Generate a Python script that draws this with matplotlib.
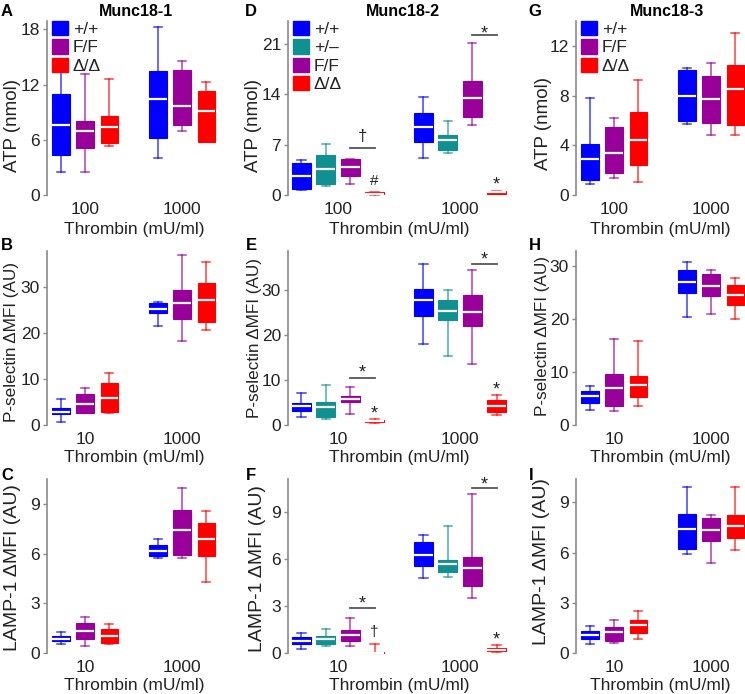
import matplotlib
matplotlib.use('Agg')
import matplotlib.pyplot as plt
from matplotlib.patches import Patch

plt.rcParams['font.family'] = ['Liberation Sans', 'DejaVu Sans']

# ---------------- data ----------------
genotypes3 = ["+/+", "F/F", "Δ/Δ"]
genotypes4 = ["+/+", "+/–", "F/F", "Δ/Δ"]
doses_atp = ["100", "1000"]
doses_flow = ["10", "1000"]
titles = ["Munc18-1", "Munc18-2", "Munc18-3"]
ylabels = ["ATP (nmol)", "P-selectin ΔMFI (AU)", "LAMP-1 ΔMFI (AU)"]

# each box: [whisker low, Q1, median, Q3, whisker high]; first dose group then second
A_atp = [[2.5, 4.3, 7.6, 10.95, 13.7], [2.5, 5.1, 6.9, 8.05, 13.1], [5.35, 5.6, 7.35, 8.6, 12.65],
         [4.05, 6.15, 10.4, 13.45, 18.25], [6.9, 7.6, 9.7, 13.6, 14.55], [5.8, 5.8, 9.1, 11.3, 12.3]]
D_atp = [[0.7, 0.85, 2.7, 4.5, 4.8], [1.25, 1.55, 3.6, 5.6, 7.1], [1.5, 2.65, 3.95, 5.0, 5.0],
         [0.05, 0.1, 0.2, 0.35, 0.4],
         [5.2, 7.4, 9.4, 11.4, 13.6], [5.8, 6.3, 7.6, 8.4, 10.35], [9.8, 10.8, 13.45, 15.85, 21.1],
         [0.1, 0.2, 0.4, 0.55, 0.6]]
G_atp = [[0.9, 1.2, 2.9, 4.1, 7.8], [1.4, 1.75, 3.4, 5.5, 6.2], [1.05, 2.45, 4.45, 6.65, 9.25],
         [5.75, 5.95, 8.0, 10.05, 10.2], [4.8, 5.8, 7.75, 9.6, 10.65], [4.8, 5.6, 8.5, 10.45, 13.05]]
B_psel = [[0.75, 2.4, 2.9, 3.8, 5.6], [2.55, 2.7, 4.6, 6.75, 8.0], [2.7, 2.9, 5.8, 9.1, 11.25],
          [21.6, 24.3, 25.2, 26.6, 26.8], [18.3, 23.0, 26.6, 29.4, 36.9], [20.7, 22.4, 27.2, 30.9, 35.4]]
E_psel = [[1.7, 3.2, 4.2, 4.95, 7.15], [1.35, 1.85, 3.95, 5.2, 9.0], [2.45, 5.05, 5.8, 6.55, 8.45],
          [0.5, 0.7, 0.95, 1.1, 1.3],
          [18.1, 24.25, 27.8, 30.4, 35.8], [15.3, 23.5, 25.4, 27.8, 30.1], [13.65, 22.1, 25.2, 29.0, 34.55],
          [2.2, 2.8, 4.3, 5.65, 6.8]]
H_psel = [[2.9, 4.15, 5.55, 6.5, 7.35], [2.6, 3.55, 6.95, 9.55, 16.3], [3.55, 5.25, 7.45, 9.2, 15.85],
          [20.4, 24.8, 26.9, 29.25, 30.7], [21.0, 24.4, 26.2, 28.5, 29.25], [19.9, 22.6, 24.5, 26.3, 27.8]]
C_lamp = [[0.55, 0.7, 0.85, 1.0, 1.25], [0.45, 0.85, 1.35, 1.8, 2.15], [0.55, 0.6, 1.05, 1.45, 1.75],
          [5.75, 5.85, 6.15, 6.5, 6.85], [5.75, 5.9, 7.45, 8.6, 9.95], [4.3, 5.85, 6.85, 7.85, 8.55]]
F_lamp = [[0.28, 0.55, 0.77, 1.03, 1.3], [0.43, 0.6, 0.88, 1.07, 1.56], [0.43, 0.75, 1.18, 1.46, 2.25],
          [0.0, 0.01, 0.03, 0.05, 0.55],
          [4.78, 5.53, 6.24, 7.09, 7.5], [4.84, 5.16, 5.68, 5.96, 8.1], [3.49, 4.29, 5.42, 6.13, 10.13],
          [0.05, 0.1, 0.2, 0.3, 0.5]]
I_lamp = [[0.56, 0.82, 1.1, 1.33, 1.61], [0.62, 0.72, 1.23, 1.57, 2.0], [0.82, 1.17, 1.67, 2.0, 2.51],
          [5.93, 6.23, 7.39, 8.3, 9.9], [5.38, 6.69, 7.33, 8.06, 8.26], [6.15, 6.85, 7.59, 8.24, 9.9]]

# significance bars F/F vs Δ/Δ: (dose group, bar y, symbol, symbol y)
D_bars = [(0, 6.6, "†", 8.2), (1, 22.2, "*", 23.2)]
E_bars = [(0, 10.45, "*", 12.9), (1, 36.0, "*", 38.0)]
F_bars = [(0, 2.85, "*", 3.5), (1, 10.5, "*", 11.1)]
# symbols above the Δ/Δ box: (dose group, symbol, symbol y)
D_marks = [(0, "#", 2.1), (1, "*", 2.2)]
E_marks = [(0, "*", 3.7), (1, "*", 9.2)]
F_marks = [(0, "†", 1.4), (1, "*", 1.2)]

# ---------------- style ----------------
colors3 = ["#0000ff", "#990099", "#ff0000"]
colors4 = ["#0000ff", "#109090", "#990099", "#ff0000"]

W, H = 745, 694
fig = plt.figure(figsize=(W / 100, H / 100), dpi=100)

col_px = [(47, 222), (288, 510), (576, 745)]
row_px = [(21, 195), (251, 425), (479, 653)]
col_xlim = [(0.608, 2.412), (0.59, 2.41), (0.608, 2.35)]

panel_data = [[A_atp, D_atp, G_atp], [B_psel, E_psel, H_psel], [C_lamp, F_lamp, I_lamp]]
panel_ylim = [[18.9, 24.2, 14.0], [37.8, 38.8, 32.8], [10.5, 11.1, 10.4]]
panel_ticks = [[[0, 6, 12, 18], [0, 7, 14, 21], [0, 4, 8, 12]],
               [[0, 10, 20, 30]] * 3,
               [[0, 3, 6, 9]] * 3]
letters = [["A", "D", "G"], ["B", "E", "H"], ["C", "F", "I"]]
letter_px = [[(7, 12), (251, 12), (535, 12)],
             [(7, 246), (251, 246), (535, 246)],
             [(7, 476), (251, 476), (531, 476)]]
ylabel_px = [[(13, 126), (254, 125), (543, 124)],
             [(12, 342), (255, 338), (542, 336)],
             [(13, 568), (257, 569), (542, 562)]]
ylabel_fs = [13.5, 12.3, 14.0]
title_px = [(136, 12), (403, 12), (667, 12)]
bars = {(0, 1): D_bars, (1, 1): E_bars, (2, 1): F_bars}
marks = {(0, 1): D_marks, (1, 1): E_marks, (2, 1): F_marks}

GREY = "#8a8a8a"

for r in range(3):
    for c in range(3):
        l, rr = col_px[c]
        t, b = row_px[r]
        ax = fig.add_axes([l / W, 1 - b / H, (rr - l) / W, (b - t) / H])
        data = panel_data[r][c]
        four = (c == 1)
        cols = colors4 if four else colors3
        gens = genotypes4 if four else genotypes3
        offs = [-0.3, -0.1, 0.1, 0.3] if four else [-0.25, 0.0, 0.25]
        bw = 0.155 if four else 0.18
        cw = 0.068 if four else 0.085
        n = len(cols)
        stats, pos, bcols = [], [], []
        for g in range(2):
            for k in range(n):
                lo, q1, med, q3, hi = data[g * n + k]
                stats.append(dict(whislo=lo, q1=q1, med=med, q3=q3, whishi=hi, fliers=[]))
                pos.append(1 + g + offs[k])
                bcols.append(cols[k])
        art = ax.bxp(stats, positions=pos, widths=bw, capwidths=cw, patch_artist=True,
                     showfliers=False, manage_ticks=False)
        for i, colr in enumerate(bcols):
            bx = art['boxes'][i]
            bx.set_facecolor(colr)
            bx.set_edgecolor(colr)
            bx.set_linewidth(0.8)
            bx.set_zorder(3)
            art['medians'][i].set_color('white')
            art['medians'][i].set_linewidth(1.6)
            art['medians'][i].set_zorder(4)
            for ln in art['whiskers'][2 * i:2 * i + 2] + art['caps'][2 * i:2 * i + 2]:
                ln.set_color(colr)
                ln.set_linewidth(1.1)
                ln.set_alpha(0.75)
                ln.set_zorder(2)
        for key in ('boxes', 'medians', 'whiskers', 'caps'):
            for a in art[key]:
                a.set_clip_on(False)

        ax.set_xlim(*col_xlim[c])
        ax.set_ylim(0, panel_ylim[r][c])
        ax.set_yticks(panel_ticks[r][c])
        ax.set_xticks([1, 2])
        ax.set_xticklabels(doses_atp if r == 0 else doses_flow)
        for s in ('top', 'right', 'bottom'):
            ax.spines[s].set_visible(False)
        ax.spines['left'].set_color(GREY)
        ax.spines['left'].set_linewidth(1.2)
        ax.tick_params(axis='y', length=3, width=1.0, color=GREY, pad=2, labelsize=12.5,
                       labelcolor='#222222')
        ax.tick_params(axis='x', length=0, pad=5, labelsize=12.5, labelcolor='#222222')
        ax.set_xlabel("Thrombin (mU/ml)", fontsize=12.5, labelpad=3.5 if r == 0 else 2.0,
                      color='#222222')
        ax.patch.set_visible(False)

        # y label
        lx, ly = ylabel_px[r][c]
        fig.text(lx / W, 1 - ly / H, ylabels[r], rotation=90, ha='center', va='center',
                 fontsize=ylabel_fs[r], color='#222222')
        # panel letter
        px, py = letter_px[r][c]
        fig.text(px / W, 1 - py / H, letters[r][c], ha='center', va='center',
                 fontsize=12, fontweight='bold')
        if r == 0:
            tx, ty = title_px[c]
            fig.text(tx / W, 1 - ty / H, titles[c], ha='center', va='center',
                     fontsize=11.5, fontweight='bold')
            handles = [Patch(facecolor=cc, edgecolor=cc) for cc in cols]
            leg = ax.legend(handles, gens, loc='upper left',
                            bbox_to_anchor=(5 / (rr - l), 1.0), frameon=False,
                            borderpad=0, borderaxespad=0, handlelength=0.9, handleheight=0.9,
                            handletextpad=0.3, labelspacing=0.12, fontsize=12.5)
            for txt in leg.get_texts():
                txt.set_color('#222222')

        # significance
        if (r, c) in bars:
            for g, yb, sym, ys in bars[(r, c)]:
                x0 = 1 + g + offs[2]
                x1 = 1 + g + offs[3]
                ax.plot([x0, x1], [yb, yb], color='#555555', lw=1.3, clip_on=False)
                fs = 13 if sym == "*" else 12
                dy = -0.57 * fs if sym == "*" else -0.3 * fs
                ax.annotate(sym, ((x0 + x1) / 2, ys), xytext=(0, dy), textcoords='offset points',
                            ha='center', va='baseline', fontsize=fs, color='#222222',
                            annotation_clip=False)
            for g, sym, ys in marks[(r, c)]:
                x = 1 + g + offs[3]
                fs = 13 if sym == "*" else 11
                dy = -0.57 * fs if sym == "*" else (-0.36 * fs if sym == "#" else -0.3 * fs)
                ax.annotate(sym, (x, ys), xytext=(0, dy), textcoords='offset points',
                            ha='center', va='baseline', fontsize=fs, color='#222222',
                            annotation_clip=False)

fig.savefig("out.png", dpi=100)
